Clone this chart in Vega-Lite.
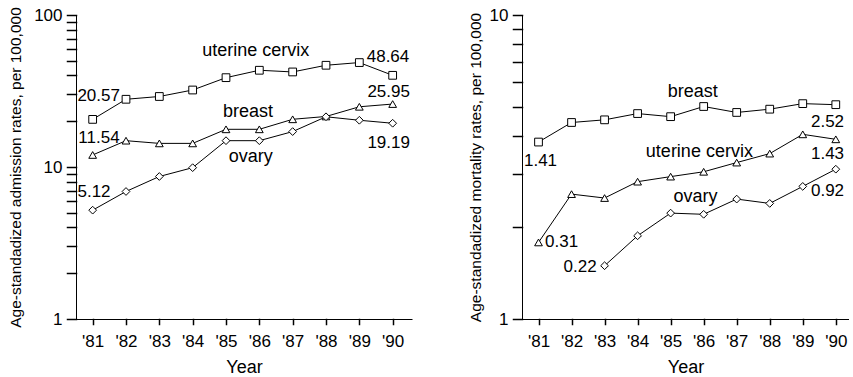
{
  "$schema": "https://vega.github.io/schema/vega-lite/v6.json",
  "background": "white",
  "padding": {"left": 8, "top": 6, "right": 0, "bottom": 0},
  "spacing": 56,
  "resolve": {"scale": {"shape": "independent"}},
  "config": {
    "view": {"stroke": null},
    "font": "Liberation Sans",
    "axis": {
      "grid": false,
      "domainColor": "black",
      "tickColor": "black",
      "labelColor": "black",
      "titleColor": "black",
      "labelFont": "Liberation Sans",
      "titleFont": "Liberation Sans",
      "labelFontSize": 17,
      "titleFontWeight": "normal",
      "domainWidth": 1,
      "tickWidth": 1.5,
      "tickCap": "square",
      "labelOverlap": false
    },
    "axisX": {"tickColor": "black", "tickWidth": 1.5},
    "axisY": {"tickColor": "black", "tickWidth": 1.5}
  },
  "datasets": {
    "series": [
      {"panel": "admission", "cancer": "uterine cervix", "year": 1981, "value": 20.57},
      {"panel": "admission", "cancer": "uterine cervix", "year": 1982, "value": 27.9},
      {"panel": "admission", "cancer": "uterine cervix", "year": 1983, "value": 29.1},
      {"panel": "admission", "cancer": "uterine cervix", "year": 1984, "value": 32.1},
      {"panel": "admission", "cancer": "uterine cervix", "year": 1985, "value": 38.7},
      {"panel": "admission", "cancer": "uterine cervix", "year": 1986, "value": 43.3},
      {"panel": "admission", "cancer": "uterine cervix", "year": 1987, "value": 42.2},
      {"panel": "admission", "cancer": "uterine cervix", "year": 1988, "value": 46.7},
      {"panel": "admission", "cancer": "uterine cervix", "year": 1989, "value": 48.64},
      {"panel": "admission", "cancer": "uterine cervix", "year": 1990, "value": 40.1},
      {"panel": "admission", "cancer": "breast", "year": 1981, "value": 12.0},
      {"panel": "admission", "cancer": "breast", "year": 1982, "value": 14.9},
      {"panel": "admission", "cancer": "breast", "year": 1983, "value": 14.3},
      {"panel": "admission", "cancer": "breast", "year": 1984, "value": 14.3},
      {"panel": "admission", "cancer": "breast", "year": 1985, "value": 17.7},
      {"panel": "admission", "cancer": "breast", "year": 1986, "value": 17.7},
      {"panel": "admission", "cancer": "breast", "year": 1987, "value": 20.6},
      {"panel": "admission", "cancer": "breast", "year": 1988, "value": 21.5},
      {"panel": "admission", "cancer": "breast", "year": 1989, "value": 24.9},
      {"panel": "admission", "cancer": "breast", "year": 1990, "value": 25.95},
      {"panel": "admission", "cancer": "ovary", "year": 1981, "value": 5.2},
      {"panel": "admission", "cancer": "ovary", "year": 1982, "value": 6.9},
      {"panel": "admission", "cancer": "ovary", "year": 1983, "value": 8.66},
      {"panel": "admission", "cancer": "ovary", "year": 1984, "value": 9.9},
      {"panel": "admission", "cancer": "ovary", "year": 1985, "value": 14.9},
      {"panel": "admission", "cancer": "ovary", "year": 1986, "value": 14.9},
      {"panel": "admission", "cancer": "ovary", "year": 1987, "value": 17.1},
      {"panel": "admission", "cancer": "ovary", "year": 1988, "value": 21.4},
      {"panel": "admission", "cancer": "ovary", "year": 1989, "value": 20.3},
      {"panel": "admission", "cancer": "ovary", "year": 1990, "value": 19.4},
      {"panel": "mortality", "cancer": "breast", "year": 1981, "value": 3.82},
      {"panel": "mortality", "cancer": "breast", "year": 1982, "value": 4.43},
      {"panel": "mortality", "cancer": "breast", "year": 1983, "value": 4.52},
      {"panel": "mortality", "cancer": "breast", "year": 1984, "value": 4.74},
      {"panel": "mortality", "cancer": "breast", "year": 1985, "value": 4.63},
      {"panel": "mortality", "cancer": "breast", "year": 1986, "value": 5.0},
      {"panel": "mortality", "cancer": "breast", "year": 1987, "value": 4.78},
      {"panel": "mortality", "cancer": "breast", "year": 1988, "value": 4.9},
      {"panel": "mortality", "cancer": "breast", "year": 1989, "value": 5.11},
      {"panel": "mortality", "cancer": "breast", "year": 1990, "value": 5.07},
      {"panel": "mortality", "cancer": "uterine cervix", "year": 1981, "value": 1.786},
      {"panel": "mortality", "cancer": "uterine cervix", "year": 1982, "value": 2.575},
      {"panel": "mortality", "cancer": "uterine cervix", "year": 1983, "value": 2.5},
      {"panel": "mortality", "cancer": "uterine cervix", "year": 1984, "value": 2.83},
      {"panel": "mortality", "cancer": "uterine cervix", "year": 1985, "value": 2.94},
      {"panel": "mortality", "cancer": "uterine cervix", "year": 1986, "value": 3.05},
      {"panel": "mortality", "cancer": "uterine cervix", "year": 1987, "value": 3.27},
      {"panel": "mortality", "cancer": "uterine cervix", "year": 1988, "value": 3.5},
      {"panel": "mortality", "cancer": "uterine cervix", "year": 1989, "value": 4.05},
      {"panel": "mortality", "cancer": "uterine cervix", "year": 1990, "value": 3.9},
      {"panel": "mortality", "cancer": "ovary", "year": 1983, "value": 1.497},
      {"panel": "mortality", "cancer": "ovary", "year": 1984, "value": 1.878},
      {"panel": "mortality", "cancer": "ovary", "year": 1985, "value": 2.23},
      {"panel": "mortality", "cancer": "ovary", "year": 1986, "value": 2.21},
      {"panel": "mortality", "cancer": "ovary", "year": 1987, "value": 2.48},
      {"panel": "mortality", "cancer": "ovary", "year": 1988, "value": 2.4},
      {"panel": "mortality", "cancer": "ovary", "year": 1989, "value": 2.73},
      {"panel": "mortality", "cancer": "ovary", "year": 1990, "value": 3.11}
    ],
    "labels": [
      {"panel": "admission", "kind": "name", "text": "uterine cervix", "year": 1985.89, "value": 58.0},
      {"panel": "admission", "kind": "name", "text": "breast", "year": 1985.66, "value": 23.0},
      {"panel": "admission", "kind": "name", "text": "ovary", "year": 1985.74, "value": 11.64},
      {"panel": "admission", "kind": "num", "text": "48.64", "year": 1989.86, "value": 52.9},
      {"panel": "admission", "kind": "num", "text": "20.57", "year": 1981.18, "value": 29.4},
      {"panel": "admission", "kind": "num", "text": "25.95", "year": 1989.88, "value": 31.3},
      {"panel": "admission", "kind": "num", "text": "11.54", "year": 1981.19, "value": 15.45},
      {"panel": "admission", "kind": "num", "text": "19.19", "year": 1989.88, "value": 14.4},
      {"panel": "admission", "kind": "num", "text": "5.12", "year": 1981.04, "value": 6.82},
      {"panel": "mortality", "kind": "name", "text": "breast", "year": 1985.67, "value": 5.59},
      {"panel": "mortality", "kind": "name", "text": "uterine cervix", "year": 1985.87, "value": 3.53},
      {"panel": "mortality", "kind": "name", "text": "ovary", "year": 1985.75, "value": 2.52},
      {"panel": "mortality", "kind": "num", "text": "2.52", "year": 1989.75, "value": 4.46},
      {"panel": "mortality", "kind": "num", "text": "1.41", "year": 1981.06, "value": 3.3},
      {"panel": "mortality", "kind": "num", "text": "1.43", "year": 1989.75, "value": 3.49},
      {"panel": "mortality", "kind": "num", "text": "0.31", "year": 1981.7, "value": 1.788},
      {"panel": "mortality", "kind": "num", "text": "0.92", "year": 1989.75, "value": 2.64},
      {"panel": "mortality", "kind": "num", "text": "0.22", "year": 1982.26, "value": 1.479}
    ]
  },
  "hconcat": [
    {
      "width": 336,
      "height": 304,
      "encoding": {
        "x": {
          "field": "year", "type": "quantitative",
          "scale": {"domain": [1980.5, 1990.58], "nice": false, "zero": false},
          "axis": {
            "values": [1981, 1982, 1983, 1984, 1985, 1986, 1987, 1988, 1989, 1990],
            "labelExpr": "\"'\" + slice(toString(datum.value), 2)",
            "ticks": true, "tickColor": "black", "tickWidth": 1.5,
            "tickSize": 5, "labelPadding": 9, "labelFlush": false,
            "title": "Year", "titleFontSize": 18, "titlePadding": 9
          }
        },
        "y": {
          "field": "value", "type": "quantitative",
          "scale": {"type": "log", "domain": [1, 100], "nice": false},
          "axis": {
            "values": [1, 2, 3, 4, 5, 6, 7, 8, 9, 10, 20, 30, 40, 50, 60, 70, 80, 90, 100],
            "labelExpr": "datum.value == 1 || datum.value == 10 || datum.value == 100 ? toString(datum.value) : ''",
            "ticks": true, "tickColor": "black", "tickWidth": 1.5,
            "tickSize": 9, "labelPadding": 5,
            "title": "Age-standadized admission rates, per 100,000",
            "titleFontSize": 15.5, "titlePadding": 10
          }
        }
      },
      "layer": [
        {
          "data": {"name": "series"},
          "transform": [{"filter": "datum.panel == 'admission'"}],
          "mark": {"type": "line", "color": "#000", "strokeWidth": 1},
          "encoding": {"detail": {"field": "cancer"}}
        },
        {
          "data": {"name": "series"},
          "transform": [{"filter": "datum.panel == 'admission'"}],
          "mark": {"type": "point", "filled": true, "fill": "#fff", "stroke": "#000", "strokeWidth": 1, "size": 60, "opacity": 1},
          "encoding": {
            "shape": {"field": "cancer", "scale": {"domain": ["uterine cervix", "breast", "ovary"], "range": ["square", "triangle-up", "diamond"]}, "legend": null}
          }
        },
        {
          "data": {"name": "labels"},
          "transform": [{"filter": "datum.panel == 'admission' && datum.kind == 'name'"}],
          "mark": {"type": "text", "fontSize": 18, "font": "Liberation Sans", "color": "#000", "align": "center", "baseline": "middle"},
          "encoding": {"text": {"field": "text"}}
        },
        {
          "data": {"name": "labels"},
          "transform": [{"filter": "datum.panel == 'admission' && datum.kind == 'num'"}],
          "mark": {"type": "text", "fontSize": 17, "font": "Liberation Sans", "color": "#000", "align": "center", "baseline": "middle"},
          "encoding": {"text": {"field": "text"}}
        }
      ]
    },
    {
      "width": 327,
      "height": 304,
      "encoding": {
        "x": {
          "field": "year", "type": "quantitative",
          "scale": {"domain": [1980.5, 1990.4], "nice": false, "zero": false},
          "axis": {
            "values": [1981, 1982, 1983, 1984, 1985, 1986, 1987, 1988, 1989, 1990],
            "labelExpr": "\"'\" + slice(toString(datum.value), 2)",
            "ticks": true, "tickColor": "black", "tickWidth": 1.5,
            "tickSize": 5, "labelPadding": 9, "labelFlush": false,
            "title": "Year", "titleFontSize": 18, "titlePadding": 9
          }
        },
        "y": {
          "field": "value", "type": "quantitative",
          "scale": {"type": "log", "domain": [1, 10], "nice": false},
          "axis": {
            "values": [1, 2, 3, 4, 5, 6, 7, 8, 9, 10],
            "labelExpr": "datum.value == 1 || datum.value == 10 ? toString(datum.value) : ''",
            "ticks": true, "tickColor": "black", "tickWidth": 1.5,
            "tickSize": 9, "labelPadding": 5,
            "title": "Age-standadized mortality rates, per 100,000",
            "titleFontSize": 15.5, "titlePadding": 6
          }
        }
      },
      "layer": [
        {
          "data": {"name": "series"},
          "transform": [{"filter": "datum.panel == 'mortality'"}],
          "mark": {"type": "line", "color": "#000", "strokeWidth": 1},
          "encoding": {"detail": {"field": "cancer"}}
        },
        {
          "data": {"name": "series"},
          "transform": [{"filter": "datum.panel == 'mortality'"}],
          "mark": {"type": "point", "filled": true, "fill": "#fff", "stroke": "#000", "strokeWidth": 1, "size": 60, "opacity": 1},
          "encoding": {
            "shape": {"field": "cancer", "scale": {"domain": ["uterine cervix", "breast", "ovary"], "range": ["triangle-up", "square", "diamond"]}, "legend": null}
          }
        },
        {
          "data": {"name": "labels"},
          "transform": [{"filter": "datum.panel == 'mortality' && datum.kind == 'name'"}],
          "mark": {"type": "text", "fontSize": 18, "font": "Liberation Sans", "color": "#000", "align": "center", "baseline": "middle"},
          "encoding": {"text": {"field": "text"}}
        },
        {
          "data": {"name": "labels"},
          "transform": [{"filter": "datum.panel == 'mortality' && datum.kind == 'num'"}],
          "mark": {"type": "text", "fontSize": 17, "font": "Liberation Sans", "color": "#000", "align": "center", "baseline": "middle"},
          "encoding": {"text": {"field": "text"}}
        }
      ]
    }
  ]
}
